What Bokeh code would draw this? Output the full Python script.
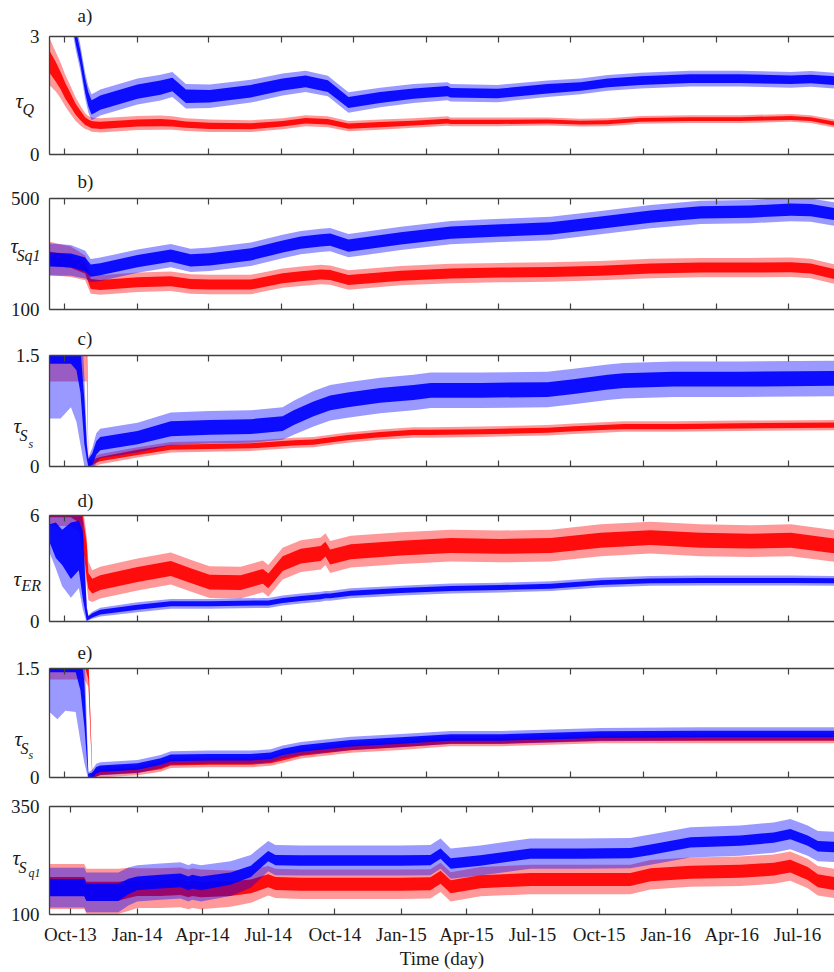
import pandas as pd
from bokeh.plotting import figure
from bokeh.models import Range1d, FixedTicker, LinearAxis
from bokeh.layouts import column
from bokeh.core.properties import value
from bokeh.embed import file_html
from bokeh.resources import INLINE

# ---------------- data ----------------
BASE_DATE = "2013-10-01"
tick_dates = ["2013-10-01", "2014-01-01", "2014-04-01", "2014-07-01", "2014-10-01", "2015-01-01",
              "2015-04-01", "2015-07-01", "2015-10-01", "2016-01-01", "2016-04-01", "2016-07-01"]
tick_labels = ["Oct-13", "Jan-14", "Apr-14", "Jul-14", "Oct-14", "Jan-15",
               "Apr-15", "Jul-15", "Oct-15", "Jan-16", "Apr-16", "Jul-16"]

# panel a) tau_Q   (days since 2013-10-01)
a_day = [-19, -11, -5, 1, 8, 14, 20, 26, 30, 34, 39, 45, 92, 121, 136, 153, 183, 235, 275, 304,
         332, 358, 398, 440, 483, 487, 546, 609, 651, 685, 726, 789, 852, 916, 941, 975]
a_blue = [6.0, 5.5, 5.0, 4.4, 3.7, 3.0, 2.45, 1.75, 1.4, 1.2, 1.25, 1.32, 1.6, 1.7, 1.78, 1.48, 1.48, 1.61, 1.78, 1.86,
          1.74, 1.32, 1.45, 1.55, 1.61, 1.57, 1.55, 1.67, 1.73, 1.82, 1.88, 1.93, 1.93, 1.9, 1.92, 1.87]
a_blue_in = [0.18, 0.18, 0.18, 0.18, 0.18, 0.18, 0.18, 0.18, 0.18, 0.18, 0.18, 0.18, 0.18, 0.18, 0.17, 0.17, 0.16, 0.16, 0.15, 0.15,
             0.15, 0.14, 0.14, 0.13, 0.13, 0.12, 0.12, 0.12, 0.11, 0.11, 0.11, 0.11, 0.11, 0.11, 0.11, 0.11]
a_blue_out = [0.33, 0.33, 0.33, 0.33, 0.33, 0.33, 0.33, 0.33, 0.33, 0.33, 0.33, 0.33, 0.33, 0.33, 0.32, 0.31, 0.3, 0.29, 0.28, 0.27,
              0.26, 0.26, 0.25, 0.24, 0.23, 0.22, 0.22, 0.21, 0.2, 0.2, 0.2, 0.2, 0.2, 0.2, 0.2, 0.2]
a_red = [2.36, 2.1, 1.88, 1.62, 1.37, 1.15, 0.99, 0.85, 0.8, 0.76, 0.75, 0.74, 0.8, 0.81, 0.8, 0.76, 0.73, 0.72, 0.78, 0.86,
         0.83, 0.72, 0.76, 0.8, 0.85, 0.83, 0.83, 0.84, 0.81, 0.82, 0.88, 0.9, 0.9, 0.93, 0.9, 0.77]
a_red_in = [0.28, 0.25, 0.22, 0.2, 0.17, 0.14, 0.12, 0.1, 0.09, 0.09, 0.09, 0.09, 0.09, 0.09, 0.085, 0.08, 0.08, 0.075, 0.07, 0.07,
            0.07, 0.065, 0.065, 0.06, 0.06, 0.055, 0.055, 0.05, 0.05, 0.05, 0.05, 0.05, 0.05, 0.05, 0.05, 0.05]
a_red_out = [0.6, 0.5, 0.45, 0.4, 0.35, 0.3, 0.25, 0.2, 0.18, 0.18, 0.18, 0.18, 0.18, 0.18, 0.17, 0.16, 0.16, 0.15, 0.14, 0.14,
             0.14, 0.13, 0.13, 0.12, 0.12, 0.11, 0.11, 0.1, 0.1, 0.1, 0.1, 0.1, 0.1, 0.1, 0.1, 0.1]

# panel b) tau_Sq1
b_day = [-19, 8, 26, 33, 45, 92, 134, 159, 183, 235, 275, 298, 323, 335, 358, 424, 487, 550, 613, 676,
         739, 802, 865, 916, 941, 975]
b_blue = [280, 277, 262, 240, 245, 274, 294, 277, 281, 299, 327, 341, 349, 352, 330, 356, 377, 385, 392, 413,
          435, 450, 453, 460, 458, 442]
b_blue_in = [25, 25, 25, 22, 22, 22, 22, 22, 22, 22, 22, 22, 22, 22, 22, 22, 22, 22, 22, 22, 22, 22, 22, 22, 22, 22]
b_blue_out = [58, 55, 50, 42, 42, 42, 42, 42, 42, 42, 42, 42, 42, 42, 42, 42, 42, 42, 42, 42, 42, 42, 42, 42, 42, 42]
b_red = [284, 272, 250, 192, 188, 198, 202, 192, 190, 190, 213, 220, 226, 224, 206, 222, 230, 233, 235, 240,
         248, 251, 251, 252, 248, 225]
b_red_in = [25, 22, 20, 18, 18, 18, 18, 18, 18, 18, 18, 18, 18, 18, 18, 18, 18, 18, 18, 18, 18, 18, 18, 18, 18, 18]
b_red_out = [60, 55, 45, 35, 35, 35, 35, 35, 35, 35, 35, 35, 35, 35, 35, 35, 35, 35, 35, 35, 35, 35, 35, 35, 35, 35]

# panel c) tau_Ss
c_day = [-19, -5, 8, 15, 20, 25, 28, 30, 35, 40, 45, 92, 134, 183, 235, 275, 289, 314, 335, 357,
         398, 440, 462, 525, 609, 642, 685, 705, 768, 852, 975]
c_blue = [1.65, 1.65, 1.65, 1.6, 1.3, 0.6, 0.2, 0.05, 0.1, 0.25, 0.31, 0.39, 0.51, 0.53, 0.54, 0.58, 0.66, 0.78, 0.86, 0.9,
          0.96, 1.0, 1.03, 1.03, 1.04, 1.08, 1.14, 1.16, 1.18, 1.18, 1.19]
c_blue_in = [0.26, 0.26, 0.26, 0.3, 0.3, 0.3, 0.1, 0.05, 0.08, 0.09, 0.09, 0.09, 0.1, 0.1, 0.1, 0.1, 0.1, 0.1, 0.1, 0.1,
             0.1, 0.1, 0.1, 0.1, 0.1, 0.1, 0.1, 0.1, 0.1, 0.1, 0.1]
c_blue_out = [1.0, 1.0, 0.85, 1.0, 1.0, 0.6, 0.2, 0.08, 0.15, 0.2, 0.2, 0.2, 0.22, 0.22, 0.22, 0.22, 0.23, 0.24, 0.24, 0.24,
              0.24, 0.24, 0.24, 0.24, 0.24, 0.24, 0.24, 0.24, 0.24, 0.24, 0.24]
c_red = [1.75, 1.75, 1.75, 1.75, 1.75, 1.75, 1.75, 0.03, 0.05, 0.08, 0.1, 0.19, 0.26, 0.27, 0.28, 0.31, 0.32, 0.33, 0.36, 0.39,
         0.43, 0.46, 0.46, 0.47, 0.49, 0.51, 0.53, 0.54, 0.54, 0.55, 0.56]
c_red_in = [0.2, 0.2, 0.2, 0.2, 0.2, 0.2, 0.2, 0.03, 0.03, 0.03, 0.03, 0.035, 0.035, 0.035, 0.035, 0.035, 0.035, 0.035, 0.035, 0.035,
            0.035, 0.035, 0.035, 0.035, 0.035, 0.035, 0.035, 0.035, 0.035, 0.035, 0.035]
c_red_out = [0.6, 0.6, 0.6, 0.6, 0.6, 0.6, 0.6, 0.05, 0.06, 0.07, 0.07, 0.07, 0.07, 0.07, 0.07, 0.07, 0.07, 0.07, 0.07, 0.07,
             0.07, 0.07, 0.07, 0.07, 0.07, 0.07, 0.07, 0.07, 0.07, 0.07, 0.07]

# panel d) tau_ER
d_day = [-19, -11, -3, 8, 18, 23, 28, 30, 35, 45, 92, 134, 159, 183, 222, 250, 257, 275, 298, 323,
         329, 335, 361, 424, 487, 550, 613, 676, 739, 802, 865, 916, 975]
d_blue = [5.0, 4.6, 4.2, 4.0, 4.3, 3.2, 0.4, 0.2, 0.35, 0.53, 0.81, 1.0, 1.0, 1.0, 1.03, 1.05, 1.05, 1.19, 1.3, 1.4,
          1.45, 1.45, 1.6, 1.75, 1.87, 1.92, 2.0, 2.2, 2.3, 2.32, 2.32, 2.32, 2.3]
d_blue_in = [0.5, 1.0, 1.0, 1.6, 1.4, 1.9, 0.35, 0.1, 0.12, 0.13, 0.14, 0.14, 0.14, 0.14, 0.14, 0.14, 0.14, 0.14, 0.14, 0.14,
             0.14, 0.14, 0.14, 0.14, 0.14, 0.14, 0.14, 0.14, 0.14, 0.14, 0.14, 0.14, 0.14]
d_blue_out = [1.1, 1.6, 2.2, 2.65, 2.4, 2.5, 0.5, 0.15, 0.2, 0.25, 0.28, 0.28, 0.28, 0.28, 0.28, 0.28, 0.28, 0.28, 0.28, 0.28,
              0.28, 0.28, 0.28, 0.28, 0.28, 0.28, 0.28, 0.28, 0.28, 0.28, 0.28, 0.28, 0.28]
d_red = [6.4, 6.4, 6.4, 6.4, 6.2, 5.2, 3.4, 2.3, 2.0, 2.2, 2.66, 3.0, 2.6, 2.23, 2.2, 2.55, 2.3, 3.28, 3.7, 3.85,
         4.1, 3.65, 3.95, 4.15, 4.3, 4.25, 4.3, 4.6, 4.75, 4.6, 4.55, 4.6, 4.25]
d_red_in = [0.5, 0.5, 0.5, 0.5, 0.6, 0.8, 1.0, 0.45, 0.42, 0.42, 0.42, 0.42, 0.42, 0.42, 0.42, 0.42, 0.42, 0.42, 0.42, 0.42,
            0.42, 0.42, 0.42, 0.42, 0.42, 0.42, 0.42, 0.42, 0.42, 0.42, 0.42, 0.42, 0.42]
d_red_out = [1.0, 1.0, 1.0, 1.0, 1.1, 1.3, 1.4, 1.1, 0.9, 0.9, 0.9, 0.9, 0.9, 0.9, 0.9, 0.9, 0.9, 0.9, 0.9, 0.9,
             0.9, 0.9, 0.9, 0.9, 0.9, 0.9, 0.9, 0.9, 0.9, 0.9, 0.9, 0.9, 0.9]

# panel e) tau_Ss (second estimate)
e_day = [-19, -9, 1, 14, 20, 25, 30, 35, 40, 45, 92, 121, 134, 183, 235, 260, 275, 298, 361, 424,
         487, 550, 676, 802, 975]
e_blue = [1.65, 1.65, 1.65, 1.65, 1.5, 1.0, 0.02, 0.03, 0.1, 0.12, 0.15, 0.22, 0.27, 0.28, 0.28, 0.3, 0.35, 0.4, 0.47, 0.51,
          0.55, 0.55, 0.59, 0.6, 0.6]
e_blue_in = [0.2, 0.2, 0.2, 0.2, 0.3, 0.3, 0.03, 0.04, 0.045, 0.045, 0.045, 0.045, 0.045, 0.045, 0.045, 0.045, 0.045, 0.045, 0.045, 0.045,
             0.045, 0.045, 0.045, 0.045, 0.045]
e_blue_out = [0.75, 0.85, 0.73, 0.75, 1.0, 0.8, 0.05, 0.08, 0.09, 0.09, 0.09, 0.09, 0.09, 0.09, 0.09, 0.09, 0.09, 0.09, 0.09, 0.09,
              0.09, 0.09, 0.09, 0.09, 0.09]
e_red = [1.75, 1.75, 1.75, 1.75, 1.75, 1.75, 1.5, 0.02, 0.05, 0.07, 0.1, 0.15, 0.2, 0.21, 0.21, 0.23, 0.27, 0.33, 0.41, 0.45,
         0.5, 0.5, 0.54, 0.54, 0.54]
e_red_in = [0.2, 0.2, 0.2, 0.2, 0.2, 0.2, 0.15, 0.03, 0.035, 0.035, 0.035, 0.035, 0.035, 0.035, 0.035, 0.035, 0.035, 0.035, 0.035, 0.035,
            0.035, 0.035, 0.035, 0.035, 0.035]
e_red_out = [0.4, 0.4, 0.4, 0.4, 0.4, 0.4, 0.25, 0.05, 0.07, 0.07, 0.07, 0.07, 0.07, 0.07, 0.07, 0.07, 0.07, 0.07, 0.07, 0.07,
             0.07, 0.07, 0.07, 0.07, 0.07]

# panel f) tau_Sq1 (bottom)
f_day = [-29, 19, 22, 66, 80, 92, 124, 152, 163, 168, 180, 221, 249, 273, 283, 318, 387, 456, 497, 511,
         525, 566, 635, 704, 773, 801, 856, 925, 971, 994, 1018, 1032, 1058]
f_blue = [162, 162, 151, 151, 165, 172, 176, 179, 172, 176, 172, 183, 200, 235, 226, 225, 225, 225, 226, 241,
          218, 225, 241, 241, 242, 250, 267, 271, 278, 286, 271, 258, 256]
f_blue_in = [20, 20, 20, 20, 18, 16, 16, 16, 16, 16, 16, 14, 13, 12, 12, 12, 12, 12, 12, 12,
             12, 12, 12, 12, 12, 12, 12, 12, 12, 12, 12, 12, 12]
f_blue_out = [46, 46, 46, 46, 44, 42, 42, 42, 42, 42, 42, 40, 38, 35, 35, 35, 35, 35, 35, 35,
              35, 35, 35, 35, 35, 35, 35, 35, 35, 35, 35, 35, 35]
f_red = [165, 165, 154, 154, 158, 161, 161, 163, 158, 161, 158, 160, 165, 178, 172, 170, 170, 170, 171, 186,
         164, 176, 181, 181, 181, 192, 198, 200, 205, 212, 195, 178, 171]
f_red_in = [22, 22, 22, 22, 20, 18, 18, 18, 18, 18, 18, 17, 16, 15, 15, 15, 15, 15, 15, 15,
            15, 15, 15, 15, 15, 15, 15, 15, 15, 15, 15, 15, 15]
f_red_out = [52, 52, 52, 52, 50, 46, 46, 46, 46, 46, 46, 42, 38, 34, 34, 34, 34, 34, 34, 34,
             34, 34, 34, 34, 34, 34, 34, 34, 34, 34, 34, 34, 34]

# ---------------- style ----------------
FONT = "Liberation Serif"
AX = "#404040"
TXT = "#1a1a1a"
BLUE = "#0000ff"
RED = "#ff0000"

base = pd.Timestamp(BASE_DATE)
tick_days = [(pd.Timestamp(d) - base).days for d in tick_dates]


def band(c, w, sign):
    return [ci + sign * wi for ci, wi in zip(c, w)]


def style_x(ax, show_labels):
    ax.ticker = FixedTicker(ticks=tick_days, minor_ticks=[])
    ax.axis_line_color = AX
    ax.axis_line_width = 1.3
    ax.major_tick_line_color = AX
    ax.major_tick_line_width = 1.2
    ax.major_tick_in = 6
    ax.major_tick_out = 0
    ax.minor_tick_line_color = None
    if show_labels:
        ax.major_label_overrides = {d: lab for d, lab in zip(tick_days, tick_labels)}
        ax.major_label_text_font = FONT
        ax.major_label_text_font_size = "19px"
        ax.major_label_text_color = TXT
        ax.major_label_standoff = 9
    else:
        ax.major_label_text_font_size = "1px"
        ax.major_label_text_color = None
        ax.major_label_standoff = 0


def add_text(p, x, y, txt, dx, dy, size, style, baseline):
    # free text outside the frame: drawn as an overlay-level text glyph (not clipped to the frame)
    p.text(x=[x], y=[y], text=[txt], x_offset=dx, y_offset=dy,
           text_font=value(FONT), text_font_size=value(size), text_font_style=style,
           text_color=TXT, text_align="left", text_baseline=baseline, level="overlay")


def make_panel(day, blue, b_in, b_out, red, r_in, r_out, xr, yr, ylabs, frame_h, top, bottom,
               letter, letter_dy, sym, bottom_labels=False):
    p = figure(width=834, frame_height=frame_h, output_backend="svg", toolbar_location=None,
               x_range=Range1d(*xr), y_range=Range1d(*yr),
               min_border_left=49, min_border_right=0, min_border_top=top, min_border_bottom=bottom,
               x_axis_location="below", y_axis_location="left")
    p.outline_line_color = None
    p.grid.visible = False
    p.background_fill_color = "white"
    p.border_fill_color = "white"

    # red first, blue on top (semi-transparent)
    p.varea(x=day, y1=band(red, r_out, -1), y2=band(red, r_out, 1), fill_color=RED, fill_alpha=0.4)
    p.varea(x=day, y1=band(red, r_in, -1), y2=band(red, r_in, 1), fill_color=RED, fill_alpha=0.92)
    p.varea(x=day, y1=band(blue, b_out, -1), y2=band(blue, b_out, 1), fill_color=BLUE, fill_alpha=0.4)
    p.varea(x=day, y1=band(blue, b_in, -1), y2=band(blue, b_in, 1), fill_color=BLUE, fill_alpha=0.92)

    bottom_ax = p.xaxis[0]
    style_x(bottom_ax, bottom_labels)
    top_ax = LinearAxis()
    p.add_layout(top_ax, "above")
    style_x(top_ax, False)

    ya = p.yaxis[0]
    ya.ticker = FixedTicker(ticks=list(yr), minor_ticks=[])
    ya.major_label_overrides = {v: s for v, s in zip(yr, ylabs)}
    ya.axis_line_color = AX
    ya.axis_line_width = 1.3
    ya.major_tick_line_color = AX
    ya.major_tick_in = 6
    ya.major_tick_out = 0
    ya.minor_tick_line_color = None
    ya.major_label_text_font = FONT
    ya.major_label_text_font_size = "19px"
    ya.major_label_text_color = TXT
    ya.major_label_standoff = 10

    if letter:
        add_text(p, xr[0], yr[1], letter, 28, letter_dy, "19px", "normal", "middle")
    for txt, dx, dy, size in sym:
        add_text(p, xr[0], yr[0], txt, dx, dy, size, "italic", "alphabetic")
    return p, bottom_ax


XR_UP = (-19, 971)
XR_LOW = (-29, 1055)

# symbol offsets are (dx from frame left, dy from frame bottom; +down)
pa, _ = make_panel(a_day, a_blue, a_blue_in, a_blue_out, a_red, a_red_in, a_red_out, XR_UP, (0, 3), ["0", "3"],
                   118, 36, 12, "a)", -21, [("τ", -34, -54, "21px"), ("Q", -27, -45, "16px")])
pb, _ = make_panel(b_day, b_blue, b_blue_in, b_blue_out, b_red, b_red_in, b_red_out, XR_UP, (100, 500), ["100", "500"],
                   111, 32, 12, "b)", -17, [("τ", -39, -64, "21px"), ("Sq1", -33, -54, "16px")])
pc, _ = make_panel(c_day, c_blue, c_blue_in, c_blue_out, c_red, c_red_in, c_red_out, XR_UP, (0, 1.5), ["0", "1.5"],
                   111, 34, 12, "c)", -17, [("τ", -36, -41, "21px"), ("S", -30, -31, "16px"), ("s", -21, -23, "12px")])
pd_, _ = make_panel(d_day, d_blue, d_blue_in, d_blue_out, d_red, d_red_in, d_red_out, XR_UP, (0, 6), ["0", "6"],
                    106, 37, 12, "d)", -15, [("τ", -36, -43, "21px"), ("ER", -28, -36, "16px")])
pe, _ = make_panel(e_day, e_blue, e_blue_in, e_blue_out, e_red, e_red_in, e_red_out, XR_UP, (0, 1.5), ["0", "1.5"],
                   109, 35, 12, "e)", -16, [("τ", -35, -39, "21px"), ("S", -29, -29, "16px"), ("s", -21, -23, "12px")])
pf, f_xaxis = make_panel(f_day, f_blue, f_blue_in, f_blue_out, f_red, f_red_in, f_red_out, XR_LOW, (100, 350),
                         ["100", "350"], 108, 17, 50, None, 0,
                         [("τ", -37, -57, "21px"), ("S", -31, -47, "16px"), ("q1", -21, -42, "12px")],
                         bottom_labels=True)
f_xaxis.axis_label = "Time (day)"
f_xaxis.axis_label_text_font = FONT
f_xaxis.axis_label_text_font_size = "19px"
f_xaxis.axis_label_text_font_style = "normal"
f_xaxis.axis_label_text_color = TXT
f_xaxis.axis_label_standoff = 0

layout = column(pa, pb, pc, pd_, pe, pf, spacing=0)
open("out.html", "w").write(file_html(layout, INLINE))
